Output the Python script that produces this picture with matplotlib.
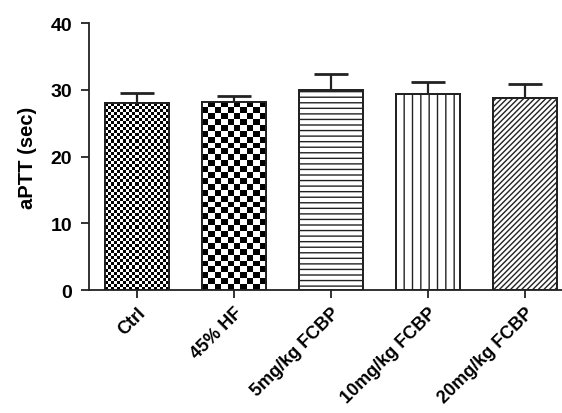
import numpy as np
import matplotlib
matplotlib.use("Agg")
import matplotlib.pyplot as plt

# values
groups = ['Ctrl', '45% HF', '5mg/kg FCBP', '10mg/kg FCBP', '20mg/kg FCBP']
aptt = [28.0, 28.2, 30.0, 29.4, 28.7]
sem = [1.5, 0.8, 2.4, 1.7, 2.2]

plt.rcParams['font.family'] = ['Liberation Sans', 'DejaVu Sans']
plt.rcParams['font.weight'] = 'bold'
plt.rcParams['hatch.linewidth'] = 1.0

fig = plt.figure(figsize=(5.62, 4.14), dpi=100)
ax = fig.add_axes([0.158, 0.297, 0.842, 0.645])

x = np.arange(len(groups))
w = 0.66
bars = ax.bar(x, aptt, width=w, color='white', edgecolor='#222', linewidth=1.4, zorder=2)

# line hatches for the last three bars
bars[2].set_hatch('---')
bars[3].set_hatch('||')
bars[4].set_hatch('//////')

# checkerboards for first two bars (image clipped to the bar)
def checker(bar, ncols, cell_h):
    x0, wd, h = bar.get_x(), bar.get_width(), bar.get_height()
    nrows = int(np.ceil(h / cell_h))
    board = (np.add.outer(np.arange(nrows), np.arange(ncols)) % 2).astype(float)
    im = ax.imshow(board, cmap='gray', interpolation='nearest', aspect='auto',
                   extent=(x0, x0 + wd, 0, nrows * cell_h), origin='lower', zorder=2.5)
    im.set_clip_path(bar)

checker(bars[0], 21, 0.46)
checker(bars[1], 10, 0.88)
# outlines back on top of the images
ax.bar(x, aptt, width=w, color='none', edgecolor='#222', linewidth=1.4, zorder=3)

ax.errorbar(x, aptt, yerr=[np.zeros(len(sem)), sem], fmt='none', ecolor='#222',
            elinewidth=1.6, capsize=12, capthick=2, zorder=1)

ax.set_ylim(0, 40)
ax.set_xlim(-0.5, 4.38)
ax.set_yticks([0, 10, 20, 30, 40])
ax.set_xticks(x)
ax.set_xticklabels(groups, rotation=45, ha='right', rotation_mode='anchor')
ax.set_ylabel('aPTT (sec)', fontsize=14.5, fontweight='bold', labelpad=10)

for s in ['top', 'right']:
    ax.spines[s].set_visible(False)
for s in ['left', 'bottom']:
    ax.spines[s].set_linewidth(1.3)
    ax.spines[s].set_color('#222')
ax.tick_params(axis='y', labelsize=14, length=6, width=1.3, color='#222', pad=6)
ax.tick_params(axis='x', labelsize=13, length=6, width=1.3, color='#222', pad=4)

fig.savefig('out.png', dpi=100)
